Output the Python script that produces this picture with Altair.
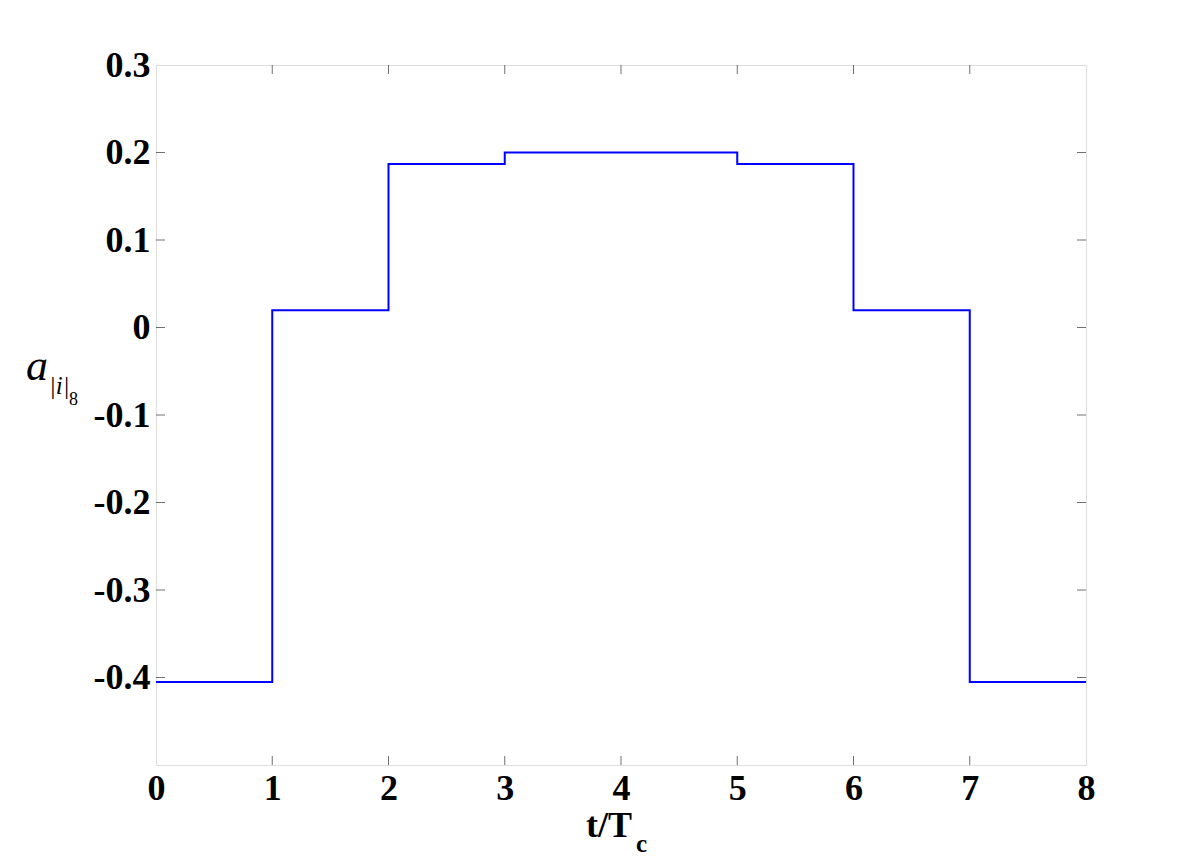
import altair as alt
import pandas as pd

# step series
step_x = [0, 1, 2, 3, 4, 5, 6, 7, 8]
step_y = [-0.405, 0.0197, 0.187, 0.2, 0.2, 0.187, 0.0197, -0.405, -0.405]

x_ticks = [0, 1, 2, 3, 4, 5, 6, 7, 8]
y_ticks = [-0.4, -0.3, -0.2, -0.1, 0.0, 0.1, 0.2, 0.3]
x_inner_ticks = [1, 2, 3, 4, 5, 6, 7]
y_inner_ticks = [-0.4, -0.3, -0.2, -0.1, 0.0, 0.1, 0.2]

W, H = 930, 700
FONT = "Liberation Serif"

xscale = alt.Scale(domain=[0, 8], nice=False, zero=False)
yscale = alt.Scale(domain=[-0.5, 0.3], nice=False, zero=False)

df = pd.DataFrame({"x": step_x, "y": step_y})

line = alt.Chart(df).mark_line(interpolate="step-after", color="#0000FF", strokeWidth=2).encode(
    x=alt.X("x:Q", scale=xscale, axis=alt.Axis(
        values=x_ticks, title=None, ticks=False, domain=False, grid=False,
        labelFont=FONT, labelFontSize=36, labelFontWeight="bold", labelColor="#000",
        labelPadding=6, labelFlush=False, format="d")),
    y=alt.Y("y:Q", scale=yscale, axis=alt.Axis(
        values=y_ticks, title=None, ticks=False, domain=False, grid=False,
        labelFont=FONT, labelFontSize=36, labelFontWeight="bold", labelColor="#000",
        labelPadding=6, labelFlush=False,
        labelExpr="datum.value == 0 ? '0' : (datum.value < 0 ? '-' : '') + format(abs(datum.value), '.1f')")),
)

ydf = pd.DataFrame({"v": y_inner_ticks})
xdf = pd.DataFrame({"v": x_inner_ticks})

TICK = "#333"
yt_left = alt.Chart(ydf).mark_tick(color=TICK, thickness=1, size=9).encode(
    y=alt.Y("v:Q", scale=yscale), x=alt.value(4.5))
yt_right = alt.Chart(ydf).mark_tick(color=TICK, thickness=1, size=9).encode(
    y=alt.Y("v:Q", scale=yscale), x=alt.value(W - 4.5))
xt_bottom = alt.Chart(xdf).mark_tick(color=TICK, thickness=1, size=9).encode(
    x=alt.X("v:Q", scale=xscale), y=alt.value(H - 4.5))
xt_top = alt.Chart(xdf).mark_tick(color=TICK, thickness=1, size=9).encode(
    x=alt.X("v:Q", scale=xscale), y=alt.value(4.5))

one = pd.DataFrame({"k": [0]})
xtitle = alt.Chart(one).mark_text(text="t/T", font=FONT, fontSize=36, fontWeight="bold",
                                  align="right", baseline="alphabetic", color="#000").encode(
    x=alt.value(476), y=alt.value(772))
xsub = alt.Chart(one).mark_text(text="c", font=FONT, fontSize=25, fontWeight="bold",
                                align="left", baseline="alphabetic", color="#000").encode(
    x=alt.value(480), y=alt.value(787))
ya = alt.Chart(one).mark_text(text="a", font=FONT, fontSize=44, fontStyle="italic",
                              align="left", baseline="alphabetic", color="#000").encode(
    x=alt.value(-130), y=alt.value(315))
yi = alt.Chart(one).mark_text(text="|i|", font=FONT, fontSize=25, fontStyle="italic",
                              align="left", baseline="alphabetic", color="#000").encode(
    x=alt.value(-107), y=alt.value(329))
y8 = alt.Chart(one).mark_text(text="8", font=FONT, fontSize=18,
                              align="left", baseline="alphabetic", color="#000").encode(
    x=alt.value(-87), y=alt.value(340))

chart = alt.layer(line, yt_left, yt_right, xt_bottom, xt_top, xtitle, xsub, ya, yi, y8).properties(
    width=W, height=H,
    padding={"left": 148, "top": 57, "right": 20, "bottom": 90},
    autosize=alt.AutoSizeParams(type="none"),
).configure_view(stroke="#808080", strokeWidth=1).configure(background="white")

chart.save("out.html", embed_options={"renderer": "svg", "actions": False})
